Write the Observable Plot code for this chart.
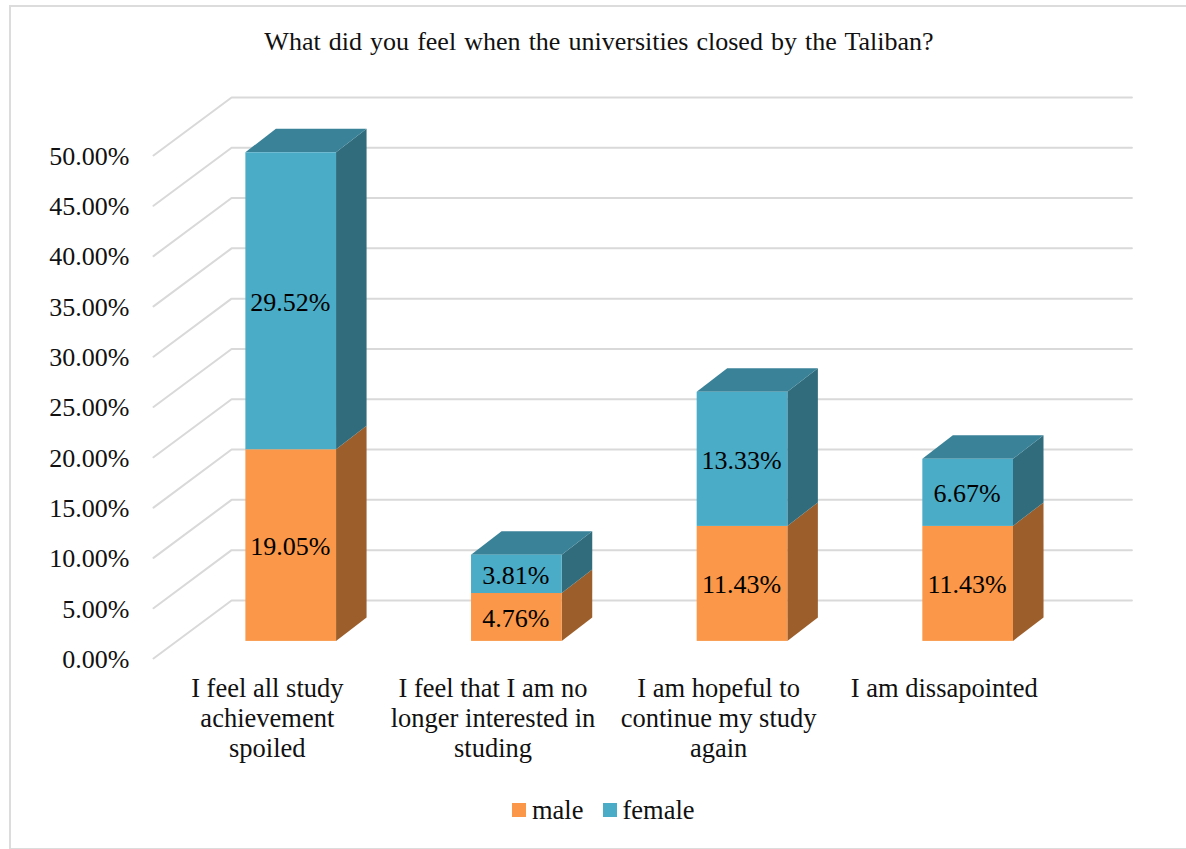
<!DOCTYPE html>
<html>
<head>
<meta charset="utf-8">
<script src="https://cdn.jsdelivr.net/npm/d3@7"></script>
<script src="https://cdn.jsdelivr.net/npm/@observablehq/plot@0.6"></script>
<style>
  html, body { margin: 0; padding: 0; background: #fff; overflow: hidden; }
  #chart { position: relative; width: 1186px; height: 849px; font-family: "Liberation Serif", serif; color: #111; }
  #frame { position: absolute; left: 9px; top: 5px; width: 1190px; height: 841px; border: 2px solid #dcdcdc; box-sizing: content-box; }
  #title { position: absolute; left: 0; top: 27px; width: 1198px; text-align: center; font-size: 26px; line-height: 30px; word-spacing: 1.6px; }
  #legend { position: absolute; left: 512px; top: 795px; display: flex; align-items: center; font-size: 26.5px; line-height: 30px; }
  #legend i { display: inline-block; width: 14px; height: 14px; margin-right: 6px; }
  #legend span { margin-right: 19px; }
  #plot { position: absolute; left: 0; top: 0; }
</style>
</head>
<body>
<div id="chart">
  <div id="frame"></div>
  <div id="plot"></div>
  <div id="title">What did you feel when the universities closed by the Taliban?</div>
  <div id="legend"></div>
</div>
<script>
const categories = [
  "I feel all study\nachievement\nspoiled",
  "I feel that I am no\nlonger interested in\nstuding",
  "I am hopeful to\ncontinue my study\nagain",
  "I am dissapointed"
];
const male = [19.05, 4.76, 11.43, 11.43];
const female = [29.52, 3.81, 13.33, 6.67];
const yTicks = [0, 5, 10, 15, 20, 25, 30, 35, 40, 45, 50];

const seriesNames = ["male", "female"];
const colors = {
  male: { front: "#fa9748", side: "#9c5f2c", top: "#b56f35" },
  female: { front: "#4aacc7", side: "#316c7d", top: "#3a8298" }
};

// Oblique projection, in data units: how far the floor recedes and where bars stand on it.
const wallDx = 0.346, wallDy = 5.77, wallEnd = 3.99;
const barLeft = 0.4094, barWidth = 0.4018;
const barDx = 0.1353, barDy = 2.336;
const frontLift = 1.7;

const segments = categories.flatMap((c, i) => {
  const m = { series: "male", i, value: male[i], base: 0 };
  const f = { series: "female", i, value: female[i], base: male[i] };
  return [m, f].map(d => ({
    ...d,
    x1: d.i + barLeft,
    x2: d.i + barLeft + barWidth,
    y1: d.base + frontLift,
    y2: d.base + d.value + frontLift
  }));
});

const gridRows = yTicks.flatMap(t => [
  { t, x: 0, y: t },
  { t, x: wallDx, y: t + wallDy },
  { t, x: wallEnd + wallDx, y: t + wallDy }
]);

const sideRows = segments.flatMap((s, k) => [
  { k, series: s.series, x: s.x2, y1: s.y1, y2: s.y2 },
  { k, series: s.series, x: s.x2 + barDx, y1: s.y1 + barDy, y2: s.y2 + barDy }
]);

const topRows = segments.filter(s => s.series === "female").flatMap((s, k) => [
  { k, y: s.y2, x1: s.x1, x2: s.x2 },
  { k, y: s.y2 + barDy, x1: s.x1 + barDx, x2: s.x2 + barDx }
]);

const plot = Plot.plot({
  width: 1186,
  height: 849,
  marginLeft: 153,
  marginRight: 130.4,
  marginTop: 155,
  marginBottom: 191,
  style: { fontFamily: "'Liberation Serif', serif", fontSize: "26px", color: "#111", background: "transparent" },
  x: { domain: [0, 4], axis: null },
  y: { domain: [0, 50], axis: null },
  marks: [
    Plot.line(gridRows, { x: "x", y: "y", z: "t", stroke: "#d9d9d9", strokeWidth: 2 }),
    ...seriesNames.map(name =>
      Plot.areaY(sideRows.filter(d => d.series === name), { x: "x", y1: "y1", y2: "y2", z: "k", fill: colors[name].side })
    ),
    Plot.areaX(topRows, { y: "y", x1: "x1", x2: "x2", z: "k", fill: colors.female.top }),
    Plot.rect(segments, { x1: "x1", x2: "x2", y1: "y1", y2: "y2", fill: d => colors[d.series].front }),
    Plot.text(segments, {
      x: d => (d.x1 + d.x2) / 2,
      y: d => (d.y1 + d.y2) / 2,
      text: d => d.value.toFixed(2) + "%",
      fontSize: 26,
      fill: "#000",
      dx: -1,
      dy: 1
    }),
    Plot.axisY(yTicks, {
      anchor: "left",
      tickSize: 0,
      tickPadding: 24,
      fontSize: 26,
      tickFormat: d => d.toFixed(2) + "%",
      label: null,
      dy: 1
    }),
    Plot.axisX(categories.map((c, i) => i + 0.5), {
      anchor: "bottom",
      tickSize: 0,
      tickPadding: 17,
      fontSize: 26.5,
      lineHeight: 1.13,
      lineAnchor: "top",
      textOverflow: null,
      tickFormat: d => categories[Math.floor(d)],
      label: null,
      dx: 1
    })
  ]
});
document.getElementById("plot").append(plot);

const legend = document.getElementById("legend");
seriesNames.forEach(name => {
  const swatch = document.createElement("i");
  swatch.style.background = colors[name].front;
  const label = document.createElement("span");
  label.textContent = name;
  legend.append(swatch, label);
});
</script>
</body>
</html>
